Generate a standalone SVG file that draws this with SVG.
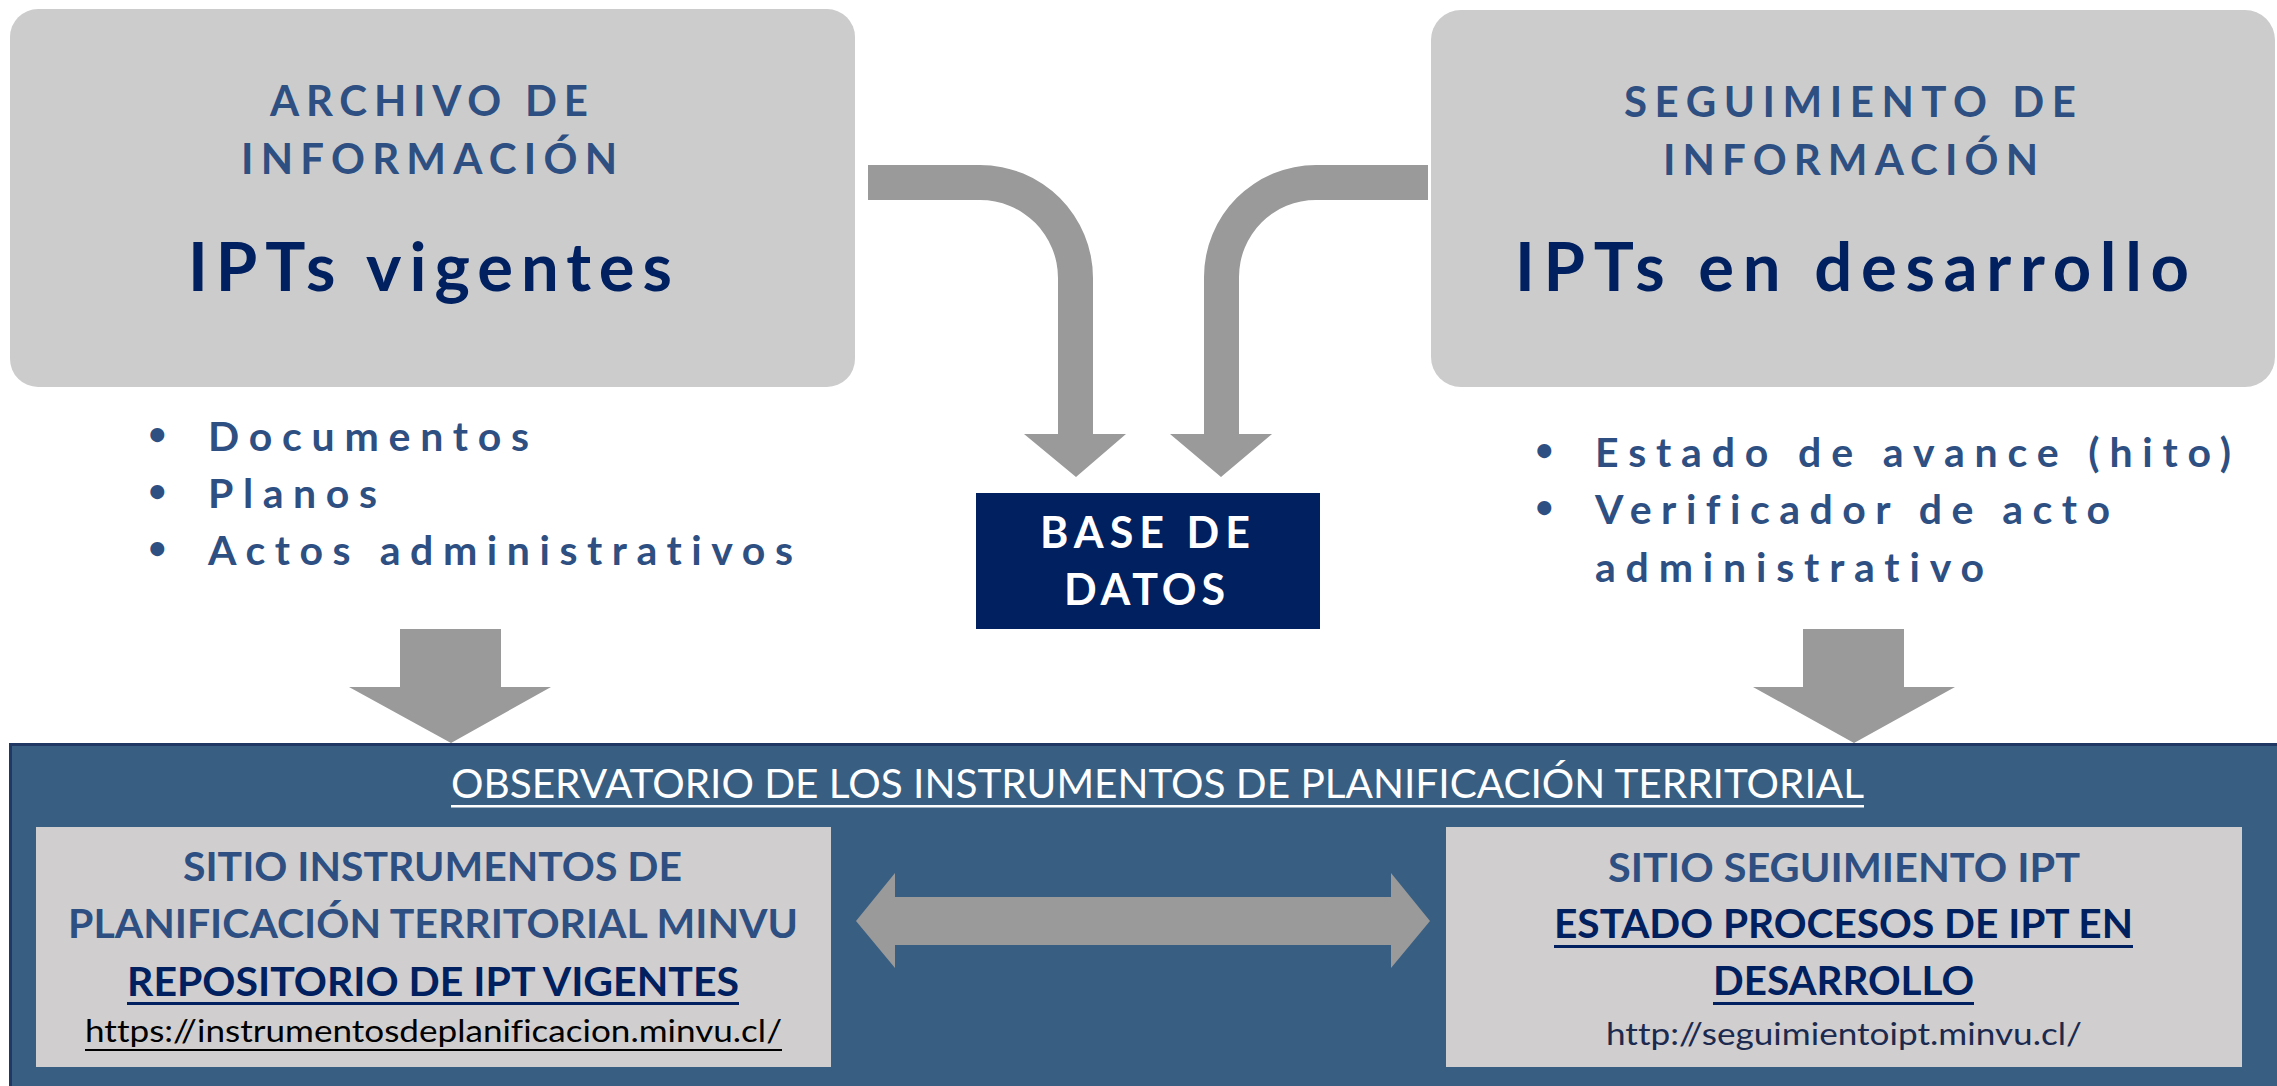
<svg xmlns="http://www.w3.org/2000/svg" width="2277" height="1086" viewBox="0 0 2277 1086">
<style>
.t{font-family:Lato,"Open Sans","Liberation Sans",sans-serif;font-variant-ligatures:none;}
.h{font-size:42px;fill:#2e4f82;font-weight:bold;}
.big{font-size:67px;fill:#002060;font-weight:bold;}
.bul{font-size:41px;fill:#2e4f82;font-weight:bold;}
.dot{font-size:32px;fill:#2e4f82;font-weight:bold;}
.db{font-size:43px;fill:#ffffff;font-weight:bold;}
.ph{font-size:40px;fill:#2e4f82;font-weight:bold;}
.pl{font-size:40px;fill:#002060;font-weight:bold;}
.url{font-size:31px;}
.box{fill:#cccccc;}
.inner{fill:#d0cece;}
.arr{fill:#9a9a9a;}
</style>
<rect width="2277" height="1086" fill="#ffffff"/>
<g id="panel">
<rect x="10.5" y="744.5" width="2280" height="360" fill="#385e82" stroke="#1f3864" stroke-width="3"/>
<text class="t" x="451" y="798" font-size="40" fill="#ffffff" textLength="1413" lengthAdjust="spacingAndGlyphs">OBSERVATORIO DE LOS INSTRUMENTOS DE PLANIFICACIÓN TERRITORIAL</text>
<rect x="451" y="805" width="1413" height="2.5" fill="#ffffff"/>
</g>
<g id="archivo">
<rect class="box" x="10" y="9" width="845" height="378" rx="28"/>
<text class="t h" x="270" y="116" textLength="318" lengthAdjust="spacing">ARCHIVO DE</text>
<text class="t h" x="241" y="174" textLength="376" lengthAdjust="spacing">INFORMACIÓN</text>
<text class="t big" x="188" y="291" textLength="484" lengthAdjust="spacing">IPTs vigentes</text>
</g>
<g id="archivo-items">
<text class="t dot" x="148" y="445">•</text>
<text class="t bul" x="208" y="451" textLength="321" lengthAdjust="spacing">Documentos</text>
<text class="t dot" x="148" y="502">•</text>
<text class="t bul" x="208" y="508" textLength="169" lengthAdjust="spacing">Planos</text>
<text class="t dot" x="148" y="559">•</text>
<text class="t bul" x="208" y="565" textLength="585" lengthAdjust="spacing">Actos administrativos</text>
</g>
<g id="seguimiento">
<rect class="box" x="1431" y="10" width="844" height="377" rx="30"/>
<text class="t h" x="1624" y="117" textLength="452" lengthAdjust="spacing">SEGUIMIENTO DE</text>
<text class="t h" x="1663" y="175" textLength="375" lengthAdjust="spacing">INFORMACIÓN</text>
<text class="t big" x="1515" y="291" textLength="674" lengthAdjust="spacing">IPTs en desarrollo</text>
</g>
<g id="seguimiento-items">
<text class="t dot" x="1535" y="461">•</text>
<text class="t bul" x="1595" y="467" textLength="636" lengthAdjust="spacing">Estado de avance (hito)</text>
<text class="t dot" x="1535" y="518">•</text>
<text class="t bul" x="1595" y="524" textLength="515" lengthAdjust="spacing">Verificador de acto</text>
<text class="t bul" x="1595" y="582" textLength="389" lengthAdjust="spacing">administrativo</text>
</g>
<g id="base-de-datos">
<rect x="976" y="493" width="344" height="136" fill="#002060"/>
<text class="t db" x="1040" y="548" textLength="210" lengthAdjust="spacing">BASE DE</text>
<text class="t db" x="1064" y="605" textLength="161" lengthAdjust="spacing">DATOS</text>
</g>
<g id="sitio-instrumentos">
<rect class="inner" x="36" y="827" width="795" height="240"/>
<text class="t ph" x="183" y="881" textLength="499" lengthAdjust="spacingAndGlyphs">SITIO INSTRUMENTOS DE</text>
<text class="t ph" x="68" y="938" textLength="730" lengthAdjust="spacingAndGlyphs">PLANIFICACIÓN TERRITORIAL MINVU</text>
<text class="t pl" x="127" y="996" textLength="612" lengthAdjust="spacingAndGlyphs">REPOSITORIO DE IPT VIGENTES</text>
<rect x="127" y="1002" width="612" height="3" fill="#002060"/>
<text class="t url" x="85" y="1042" fill="#000000" textLength="697" lengthAdjust="spacingAndGlyphs">https://instrumentosdeplanificacion.minvu.cl/</text>
<rect x="85" y="1049" width="697" height="2" fill="#000000"/>
</g>
<g id="sitio-seguimiento">
<rect class="inner" x="1446" y="827" width="796" height="240"/>
<text class="t ph" x="1608" y="882" textLength="472" lengthAdjust="spacingAndGlyphs">SITIO SEGUIMIENTO IPT</text>
<text class="t pl" x="1554" y="938" textLength="579" lengthAdjust="spacingAndGlyphs">ESTADO PROCESOS DE IPT EN</text>
<rect x="1554" y="945" width="579" height="3" fill="#002060"/>
<text class="t pl" x="1713" y="995" textLength="261" lengthAdjust="spacingAndGlyphs">DESARROLLO</text>
<rect x="1713" y="1002" width="261" height="3" fill="#002060"/>
<text class="t url" x="1606" y="1045" fill="#1b2a4e" textLength="476" lengthAdjust="spacingAndGlyphs">http://seguimientoipt.minvu.cl/</text>
</g>
<g id="connectors">
<path class="arr" d="M868,165 H980 A113,113 0 0 1 1093,278 V434 H1126 L1076,477 L1024,434 H1058 V278 A78,78 0 0 0 980,200 H868 Z"/>
<path class="arr" d="M1428,165 H1316 A112,112 0 0 0 1204,277 V434 H1170 L1221,477 L1272,434 H1239 V277 A77,77 0 0 1 1316,200 H1428 Z"/>
<polygon class="arr" points="400,629 501,629 501,687 551,687 451,743 349,687 400,687"/>
<polygon class="arr" points="1803,629 1904,629 1904,687 1955,687 1854,743 1753,687 1803,687"/>
<polygon class="arr" points="856,921 895,873 895,897 1391,897 1391,873 1430,921 1391,968 1391,945 895,945 895,968"/>
</g>
</svg>
